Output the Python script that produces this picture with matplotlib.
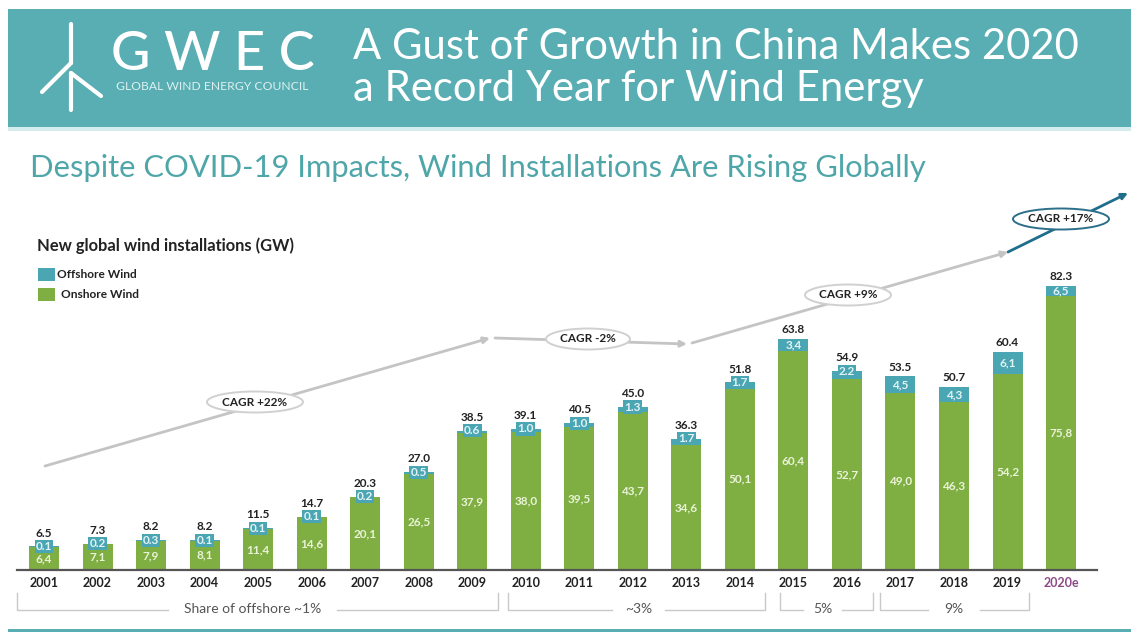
import matplotlib
matplotlib.use("Agg")
import matplotlib.pyplot as plt
from matplotlib.patches import Ellipse, Rectangle

years = ["2001", "2002", "2003", "2004", "2005", "2006", "2007", "2008", "2009", "2010",
         "2011", "2012", "2013", "2014", "2015", "2016", "2017", "2018", "2019", "2020e"]
onshore = [6.4, 7.1, 7.9, 8.1, 11.4, 14.6, 20.1, 26.5, 37.9, 38.0,
           39.5, 43.7, 34.6, 50.1, 60.4, 52.7, 49.0, 46.3, 54.2, 75.8]
offshore = [0.1, 0.2, 0.3, 0.1, 0.1, 0.1, 0.2, 0.5, 0.6, 1.0,
            1.0, 1.3, 1.7, 1.7, 3.4, 2.2, 4.5, 4.3, 6.1, 2.7]  # 2020e is drawn short in the original
offshore_labels = ["0.1", "0.2", "0.3", "0.1", "0.1", "0.1", "0.2", "0.5", "0.6", "1.0",
                   "1.0", "1.3", "1.7", "1.7", "3,4", "2.2", "4,5", "4,3", "6,1", "6,5"]
onshore_labels = ["6,4", "7,1", "7,9", "8,1", "11,4", "14,6", "20,1", "26,5", "37,9", "38,0",
                  "39,5", "43,7", "34,6", "50,1", "60,4", "52,7", "49,0", "46,3", "54,2", "75,8"]
totals = ["6.5", "7.3", "8.2", "8.2", "11.5", "14.7", "20.3", "27.0", "38.5", "39.1",
          "40.5", "45.0", "36.3", "51.8", "63.8", "54.9", "53.5", "50.7", "60.4", "82.3"]

GREEN = "#7FAF42"
TEAL = "#4BA6B4"
HEAD = "#58AEB3"
W, H = 1131, 632

plt.rcParams["font.family"] = ["Lato", "DejaVu Sans"]
fig = plt.figure(figsize=(W / 100, H / 100), dpi=100, facecolor="white")

# overlay in pixel coordinates for the slide furniture
bg = fig.add_axes([0, 0, 1, 1])
bg.set_xlim(0, W)
bg.set_ylim(H, 0)
bg.axis("off")

bg.add_patch(Rectangle((8, 9), W - 8, 118, color=HEAD, lw=0))
bg.add_patch(Rectangle((8, 127), W - 8, 4, color="#D5ECEE", lw=0))
bg.add_patch(Rectangle((8, 629), W - 8, 3, color=HEAD, lw=0))

# turbine logo
for x0, y0, x1, y1 in [(71, 24, 71, 63), (71, 63, 42, 92), (71, 73, 101, 96), (71, 73, 71, 110)]:
    bg.plot([x0, x1], [y0, y1], color="white", lw=3, solid_capstyle="round")
bg.text(111, 54, "G W E C", color="white", fontsize=39, fontweight="medium", va="center", ha="left")
bg.text(116, 87, "GLOBAL WIND ENERGY COUNCIL", color="#DDF0F0", fontsize=8.7, va="center", ha="left")
bg.text(353, 47, "A Gust of Growth in China Makes 2020", color="white", fontsize=30.1, va="center", ha="left")
bg.text(353, 89, "a Record Year for Wind Energy", color="white", fontsize=30.1, va="center", ha="left")
bg.text(30, 168, "Despite COVID-19 Impacts, Wind Installations Are Rising Globally", color="#4FA6A9",
        fontsize=22.2, va="center", ha="left")

bg.text(37, 246, "New global wind installations (GW)", color="#222222", fontsize=11.9,
        fontweight="bold", va="center", ha="left")
bg.add_patch(Rectangle((38, 268), 17, 13, color=TEAL, lw=0))
bg.add_patch(Rectangle((38, 288), 17, 13, color=GREEN, lw=0))
bg.text(57, 275, "Offshore Wind", color="#222222", fontsize=8.6, fontweight="bold", va="center", ha="left")
bg.text(61, 295, "Onshore Wind", color="#222222", fontsize=8.6, fontweight="bold", va="center", ha="left")

# CAGR arrows
for x0, y0, x1, y1, col in [(45, 466, 490, 338, "#C4C4C4"), (495, 338, 687, 344, "#C4C4C4"),
                            (692, 343, 1008, 252, "#C4C4C4"), (1008, 252, 1128, 193, "#1F6E8C")]:
    bg.annotate("", xy=(x1, y1), xytext=(x0, y0),
                arrowprops=dict(arrowstyle="-|>", color=col, lw=2.0, shrinkA=0, shrinkB=0, mutation_scale=9))
for cx, cy, w, h, txt, ec in [(255, 402, 96, 21, "CAGR +22%", "#D0D0D0"), (588, 339, 84, 21, "CAGR -2%", "#D0D0D0"),
                              (848, 295, 86, 21, "CAGR +9%", "#D0D0D0"), (1061, 219, 96, 21, "CAGR +17%", "#2C6F88")]:
    bg.add_patch(Ellipse((cx, cy), w, h, fc="white", ec=ec, lw=1.4, zorder=4))
    bg.text(cx, cy, txt, fontsize=8.5, fontweight="bold", color="#222222", ha="center", va="center", zorder=5)

# share of offshore brackets
for x0, x1, gap0, gap1, txt in [(17, 498, 168, 337, "Share of offshore ~1%"), (508, 765, 612, 665, "~3%"),
                                (780, 873, 803, 842, "5%"), (880, 1029, 928, 980, "9%")]:
    bg.plot([x0, x0, gap0], [593, 610, 610], color="#C9C9C9", lw=1)
    bg.plot([gap1, x1, x1], [610, 610, 593], color="#C9C9C9", lw=1)
    bg.text((gap0 + gap1) / 2, 609, txt, color="#555555", fontsize=10, ha="center", va="center")

# bars
x0_px, dx_px = 44, 53.53
left_px, right_px, base_px, top_px = 17, 1097, 570, 200
px_per_gw = 3.62
ax = fig.add_axes([left_px / W, (H - base_px) / H, (right_px - left_px) / W, (base_px - top_px) / H])
ax.patch.set_alpha(0)
ax.set_xlim((left_px - x0_px) / dx_px, (right_px - x0_px) / dx_px)
ax.set_ylim(0, (base_px - top_px) / px_per_gw)
pos = list(range(len(years)))
bw = 30 / dx_px
ax.bar(pos, onshore, bw, color=GREEN)
ax.bar(pos, offshore, bw, bottom=onshore, color=TEAL)

for i in pos:
    top = onshore[i] + offshore[i]
    ax.text(i, onshore[i] / 2, onshore_labels[i], color="#EAF3D8", fontsize=8.5, fontweight="bold",
            ha="center", va="center")
    if offshore[i] >= 2.6:
        # wide enough to carry the label inside
        ax.text(i, onshore[i] + offshore[i] / 2, offshore_labels[i], color="#E4F3F5", fontsize=8.5,
                fontweight="bold", ha="center", va="center")
        label_y = top + 1.0
    else:
        ax.text(i, top, offshore_labels[i], color="#E4F3F5", fontsize=8.5, fontweight="bold", ha="center", va="center",
                bbox=dict(boxstyle="square,pad=0.1", fc=TEAL, ec="none"))
        label_y = top + 2.2
    ax.text(i, label_y, totals[i], color="#222222", fontsize=8.5, fontweight="bold", ha="center", va="bottom")

for s in ["top", "left", "right"]:
    ax.spines[s].set_visible(False)
ax.spines["bottom"].set_color("#555555")
ax.spines["bottom"].set_linewidth(1.6)
ax.set_yticks([])
ax.set_xticks(pos)
ax.set_xticklabels(years, fontsize=9, fontweight="bold", color="#222222")
ax.get_xticklabels()[-1].set_color("#8E4A86")
ax.tick_params(axis="x", length=0, pad=5)

fig.savefig("out.png", dpi=100)
